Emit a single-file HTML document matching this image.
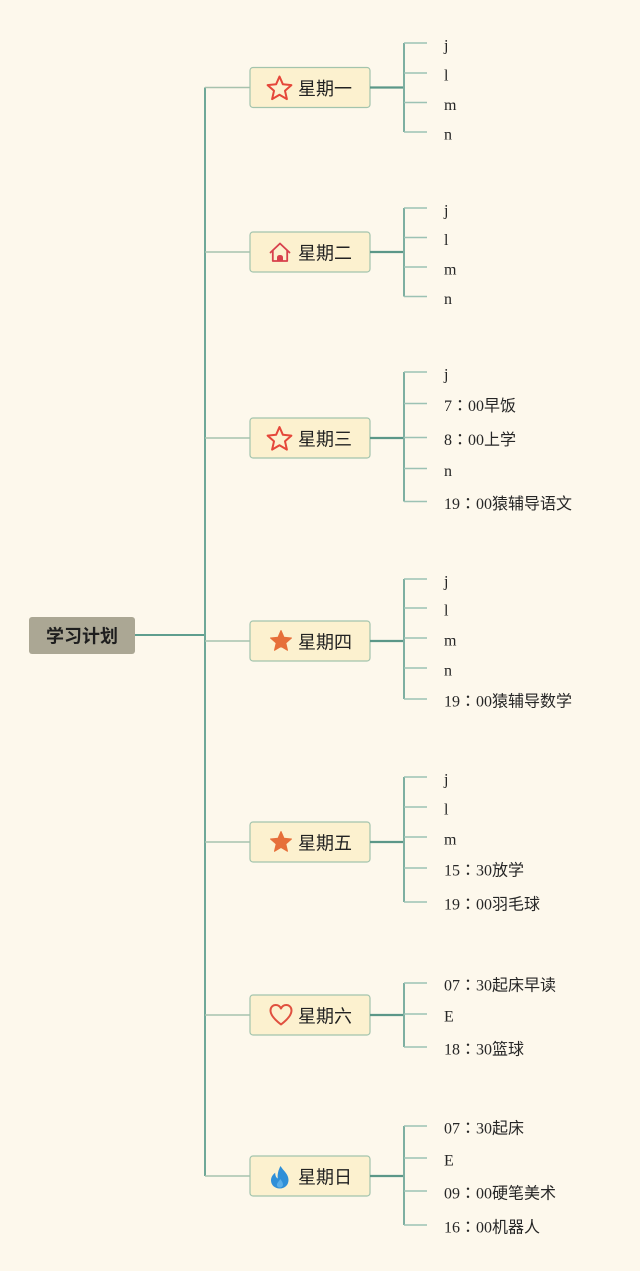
<!DOCTYPE html>
<html>
<head>
<meta charset="utf-8">
<style>
  html,body{margin:0;padding:0;background:#fdf8ec;}
  svg{display:block;}
  .lbl{font-family:"Liberation Serif","Noto Sans CJK SC",serif;font-size:16px;fill:#262626;}
  .c{font-family:"Noto Sans CJK TC","Noto Sans CJK JP",sans-serif;}
  .box{fill:#fcf1cf;stroke:#a3c4ad;stroke-width:1.2;}
  .bt{font-family:"Liberation Sans","Noto Sans CJK SC",sans-serif;font-size:18px;fill:#222;}
  .tick{stroke:#9cc2b4;stroke-width:1.5;fill:none;}
  .brk{stroke:#7eafa1;stroke-width:2;fill:none;}
  .b2b{stroke:#5b9788;stroke-width:2.2;fill:none;}
  .br{stroke:#a7c2ae;stroke-width:1.5;fill:none;}
</style>
</head>
<body>
<svg width="640" height="1271" viewBox="0 0 640 1271" xmlns="http://www.w3.org/2000/svg">
  <rect width="640" height="1271" fill="#fdf8ec"/>

  <!-- main trunk -->
  <line x1="135" y1="635" x2="205" y2="635" stroke="#5f9e8e" stroke-width="2"/>
  <line x1="205" y1="87.5" x2="205" y2="1176" stroke="#6fa898" stroke-width="2"/>

  <!-- branches to day boxes -->
  <g class="br">
    <line x1="205" y1="87.5" x2="250" y2="87.5"/>
    <line x1="205" y1="252" x2="250" y2="252"/>
    <line x1="205" y1="438" x2="250" y2="438"/>
    <line x1="205" y1="641" x2="250" y2="641"/>
    <line x1="205" y1="842" x2="250" y2="842"/>
    <line x1="205" y1="1015" x2="250" y2="1015"/>
    <line x1="205" y1="1176" x2="250" y2="1176"/>
  </g>

  <!-- root -->
  <rect x="29" y="617" width="106" height="37" rx="3" fill="#aba794"/>
  <text x="82" y="636.5" text-anchor="middle" dominant-baseline="central" font-family="'Liberation Sans','Noto Sans CJK SC',sans-serif" font-size="18" font-weight="bold" fill="#1e1e1e">学习计划</text>

  <!-- Day 1 -->
  <rect class="box" x="250" y="67.5" width="120" height="40" rx="3"/>
  <polygon points="279.5,76.5 282.9,84.3 291.4,85.1 285,90.8 286.9,99.1 279.5,94.8 272.1,99.1 274,90.8 267.6,85.1 276.1,84.3" fill="none" stroke="#e5473a" stroke-width="2" stroke-linejoin="round"/>
  <text class="bt" x="298" y="89" dominant-baseline="central">星期一</text>
  <line class="b2b" x1="370" y1="87.5" x2="404" y2="87.5"/>
  <line class="brk" x1="404" y1="43" x2="404" y2="132"/>
  <g class="tick">
    <line x1="404" y1="43" x2="427" y2="43"/>
    <line x1="404" y1="73" x2="427" y2="73"/>
    <line x1="404" y1="102.5" x2="427" y2="102.5"/>
    <line x1="404" y1="132" x2="427" y2="132"/>
  </g>
  <text class="lbl" x="444" y="50.5">j</text>
  <text class="lbl" x="444" y="80.5">l</text>
  <text class="lbl" x="444" y="110">m</text>
  <text class="lbl" x="444" y="139.5">n</text>

  <!-- Day 2 -->
  <rect class="box" x="250" y="232" width="120" height="40" rx="3"/>
  <g fill="none" stroke="#d8404c" stroke-width="1.8" stroke-linejoin="round" stroke-linecap="round">
    <path d="M270.5,252.5 L280,243.5 L289.5,252.5"/>
    <path d="M272.8,250.5 V261 H287.2 V250.5"/>
  </g>
  <path d="M277,261 V257.5 Q277,255 280,255 Q283,255 283,257.5 V261 Z" fill="#d8404c"/>
  <text class="bt" x="298" y="253.5" dominant-baseline="central">星期二</text>
  <line class="b2b" x1="370" y1="252" x2="404" y2="252"/>
  <line class="brk" x1="404" y1="208" x2="404" y2="296.5"/>
  <g class="tick">
    <line x1="404" y1="208" x2="427" y2="208"/>
    <line x1="404" y1="237.5" x2="427" y2="237.5"/>
    <line x1="404" y1="267" x2="427" y2="267"/>
    <line x1="404" y1="296.5" x2="427" y2="296.5"/>
  </g>
  <text class="lbl" x="444" y="215.5">j</text>
  <text class="lbl" x="444" y="245">l</text>
  <text class="lbl" x="444" y="274.5">m</text>
  <text class="lbl" x="444" y="304">n</text>

  <!-- Day 3 -->
  <rect class="box" x="250" y="418" width="120" height="40" rx="3"/>
  <polygon points="279.5,427 282.9,434.8 291.4,435.6 285,441.3 286.9,449.6 279.5,445.3 272.1,449.6 274,441.3 267.6,435.6 276.1,434.8" fill="none" stroke="#e5473a" stroke-width="2" stroke-linejoin="round"/>
  <text class="bt" x="298" y="439.5" dominant-baseline="central">星期三</text>
  <line class="b2b" x1="370" y1="438" x2="404" y2="438"/>
  <line class="brk" x1="404" y1="372" x2="404" y2="501.5"/>
  <g class="tick">
    <line x1="404" y1="372" x2="427" y2="372"/>
    <line x1="404" y1="403.5" x2="427" y2="403.5"/>
    <line x1="404" y1="437.5" x2="427" y2="437.5"/>
    <line x1="404" y1="468.5" x2="427" y2="468.5"/>
    <line x1="404" y1="501.5" x2="427" y2="501.5"/>
  </g>
  <text class="lbl" x="444" y="379.5">j</text>
  <text class="lbl" x="444" y="411">7<tspan class="c">：</tspan>00早饭</text>
  <text class="lbl" x="444" y="445">8<tspan class="c">：</tspan>00上学</text>
  <text class="lbl" x="444" y="476">n</text>
  <text class="lbl" x="444" y="509">19<tspan class="c">：</tspan>00猿辅导语文</text>

  <!-- Day 4 -->
  <rect class="box" x="250" y="621" width="120" height="40" rx="3"/>
  <polygon points="281,630.5 284,637.3 291.5,638 285.8,643 287.5,650.3 281,646.5 274.5,650.3 276.2,643 270.5,638 278,637.3" fill="#e66f3a" stroke="#e66f3a" stroke-width="1" stroke-linejoin="round"/>
  <text class="bt" x="298" y="642.5" dominant-baseline="central">星期四</text>
  <line class="b2b" x1="370" y1="641" x2="404" y2="641"/>
  <line class="brk" x1="404" y1="579" x2="404" y2="699"/>
  <g class="tick">
    <line x1="404" y1="579" x2="427" y2="579"/>
    <line x1="404" y1="608" x2="427" y2="608"/>
    <line x1="404" y1="638" x2="427" y2="638"/>
    <line x1="404" y1="668" x2="427" y2="668"/>
    <line x1="404" y1="699" x2="427" y2="699"/>
  </g>
  <text class="lbl" x="444" y="586.5">j</text>
  <text class="lbl" x="444" y="615.5">l</text>
  <text class="lbl" x="444" y="645.5">m</text>
  <text class="lbl" x="444" y="675.5">n</text>
  <text class="lbl" x="444" y="706.5">19<tspan class="c">：</tspan>00猿辅导数学</text>

  <!-- Day 5 -->
  <rect class="box" x="250" y="822" width="120" height="40" rx="3"/>
  <polygon points="281,831.5 284,838.3 291.5,839 285.8,844 287.5,851.3 281,847.5 274.5,851.3 276.2,844 270.5,839 278,838.3" fill="#e66f3a" stroke="#e66f3a" stroke-width="1" stroke-linejoin="round"/>
  <text class="bt" x="298" y="843.5" dominant-baseline="central">星期五</text>
  <line class="b2b" x1="370" y1="842" x2="404" y2="842"/>
  <line class="brk" x1="404" y1="777" x2="404" y2="902"/>
  <g class="tick">
    <line x1="404" y1="777" x2="427" y2="777"/>
    <line x1="404" y1="807" x2="427" y2="807"/>
    <line x1="404" y1="837" x2="427" y2="837"/>
    <line x1="404" y1="868" x2="427" y2="868"/>
    <line x1="404" y1="902" x2="427" y2="902"/>
  </g>
  <text class="lbl" x="444" y="784.5">j</text>
  <text class="lbl" x="444" y="814.5">l</text>
  <text class="lbl" x="444" y="844.5">m</text>
  <text class="lbl" x="444" y="875.5">15<tspan class="c">：</tspan>30放学</text>
  <text class="lbl" x="444" y="909.5">19<tspan class="c">：</tspan>00羽毛球</text>

  <!-- Day 6 -->
  <rect class="box" x="250" y="995" width="120" height="40" rx="3"/>
  <path d="M281,1024.5 C272.5,1018 270.5,1014 270.5,1010.5 C270.5,1007 273,1005 275.8,1005 C278.2,1005 280,1006.5 281,1008.5 C282,1006.5 283.8,1005 286.2,1005 C289,1005 291.5,1007 291.5,1010.5 C291.5,1014 289.5,1018 281,1024.5 Z" fill="none" stroke="#e0503f" stroke-width="2" stroke-linejoin="round"/>
  <text class="bt" x="298" y="1016.5" dominant-baseline="central">星期六</text>
  <line class="b2b" x1="370" y1="1015" x2="404" y2="1015"/>
  <line class="brk" x1="404" y1="983" x2="404" y2="1047"/>
  <g class="tick">
    <line x1="404" y1="983" x2="427" y2="983"/>
    <line x1="404" y1="1014" x2="427" y2="1014"/>
    <line x1="404" y1="1047" x2="427" y2="1047"/>
  </g>
  <text class="lbl" x="444" y="990.5">07<tspan class="c">：</tspan>30起床早读</text>
  <text class="lbl" x="444" y="1021.5">E</text>
  <text class="lbl" x="444" y="1054.5">18<tspan class="c">：</tspan>30篮球</text>

  <!-- Day 7 -->
  <rect class="box" x="250" y="1156" width="120" height="40" rx="3"/>
  <path d="M280.5,1166 C283.5,1171 288.5,1174 288.5,1180 C288.5,1185 284.8,1188.5 279.8,1188.5 C274.8,1188.5 271,1185 271,1180.5 C271,1177 273,1174.5 275.2,1172.8 C275.2,1175.8 276.2,1177.8 277.8,1178.5 C277.2,1174.5 278.3,1170 280.5,1166 Z" fill="#2f8fd8"/>
  <path d="M279.8,1187.5 C277.5,1187.5 276.5,1185.8 277,1184 C277.5,1182.3 279.3,1181 280.3,1179 C282,1181.2 283,1183 283,1184.6 C283,1186.3 281.6,1187.5 279.8,1187.5 Z" fill="#5aaee8"/>
  <text class="bt" x="298" y="1177.5" dominant-baseline="central">星期日</text>
  <line class="b2b" x1="370" y1="1176" x2="404" y2="1176"/>
  <line class="brk" x1="404" y1="1126" x2="404" y2="1225"/>
  <g class="tick">
    <line x1="404" y1="1126" x2="427" y2="1126"/>
    <line x1="404" y1="1158" x2="427" y2="1158"/>
    <line x1="404" y1="1191" x2="427" y2="1191"/>
    <line x1="404" y1="1225" x2="427" y2="1225"/>
  </g>
  <text class="lbl" x="444" y="1133.5">07<tspan class="c">：</tspan>30起床</text>
  <text class="lbl" x="444" y="1165.5">E</text>
  <text class="lbl" x="444" y="1198.5">09<tspan class="c">：</tspan>00硬笔美术</text>
  <text class="lbl" x="444" y="1232.5">16<tspan class="c">：</tspan>00机器人</text>
</svg>
</body>
</html>
